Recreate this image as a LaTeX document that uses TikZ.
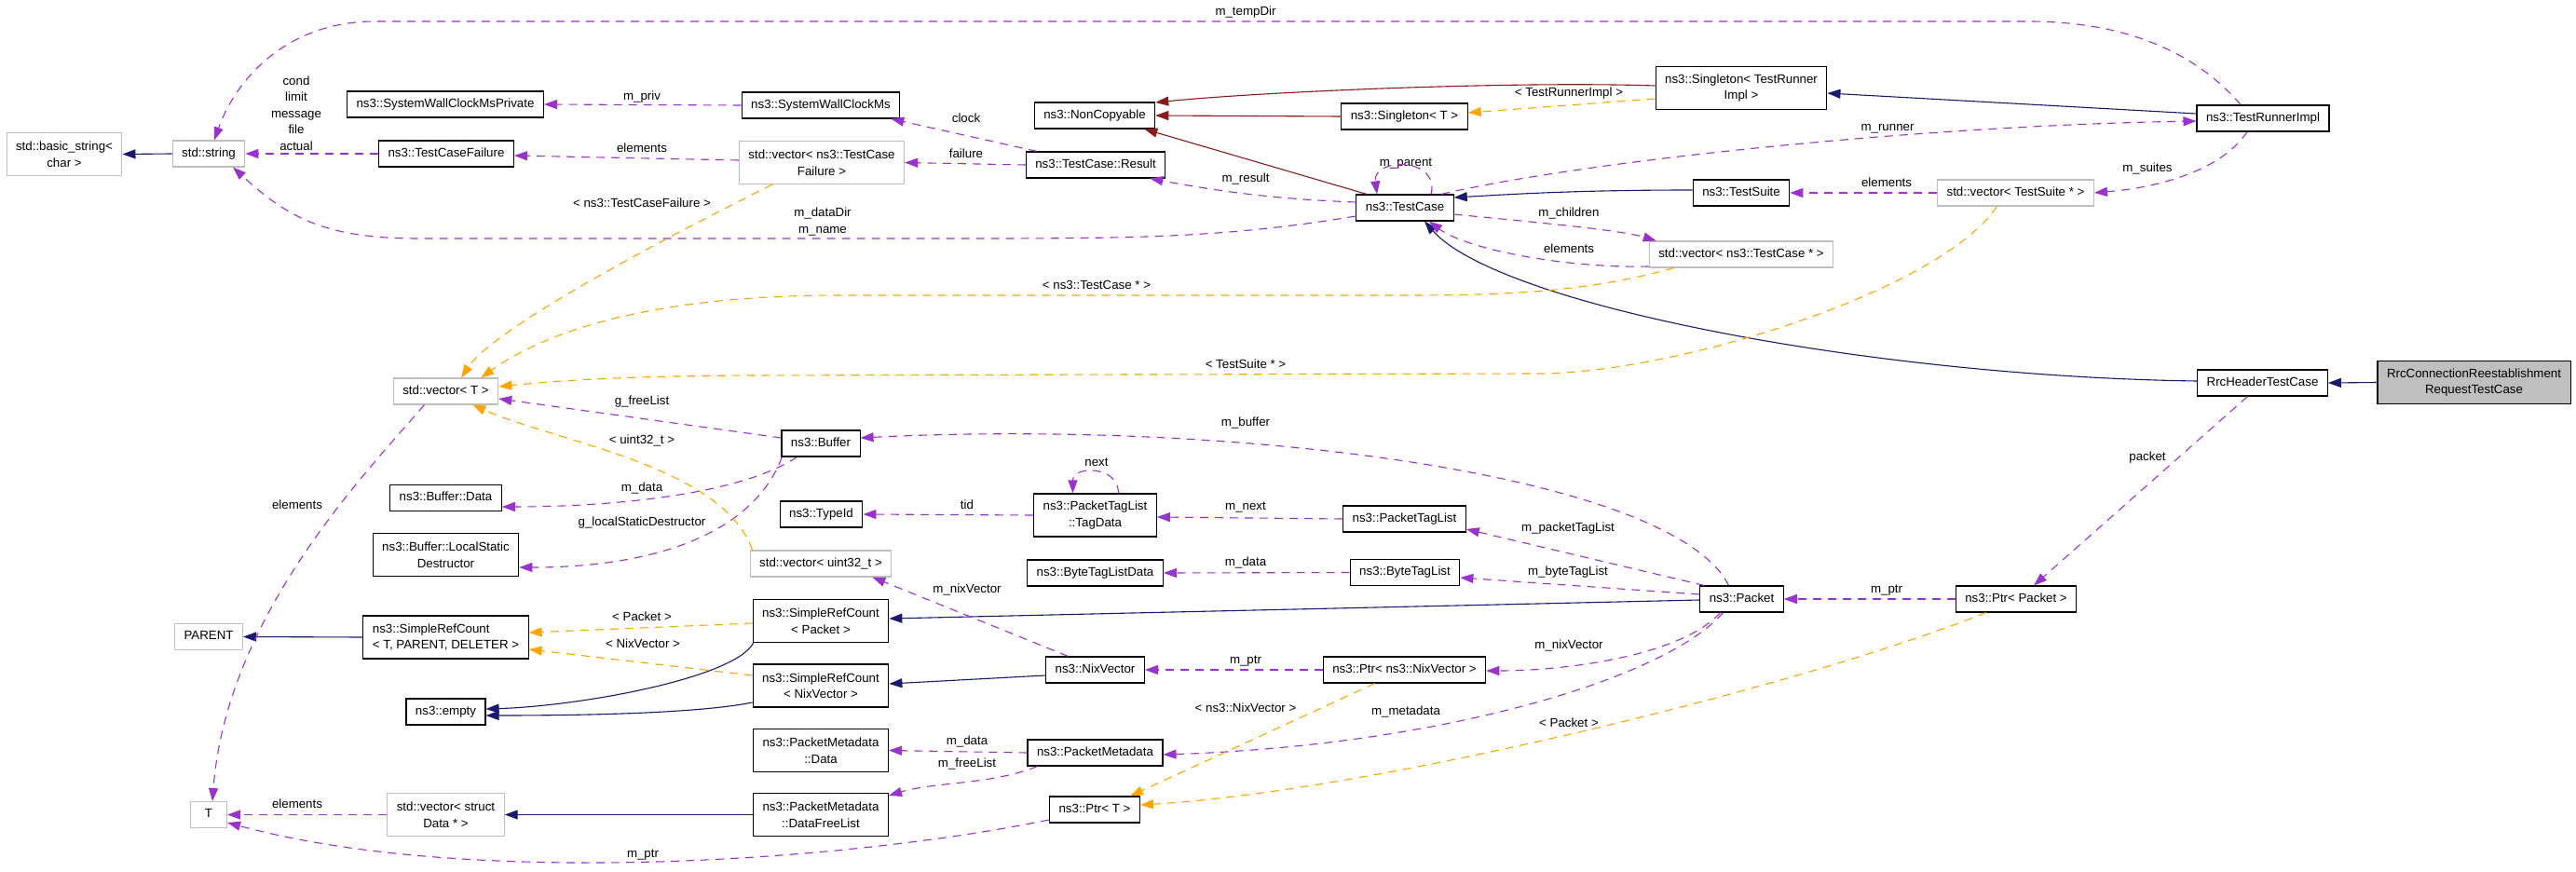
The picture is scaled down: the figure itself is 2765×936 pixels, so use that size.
\documentclass[tikz,border=0pt]{standalone}
\usepackage{fontspec}
\setmainfont{Liberation Sans}
\usetikzlibrary{arrows.meta,calc}
\definecolor{dx_navy}{RGB}{25,25,112}
\definecolor{dx_red}{RGB}{139,26,26}
\definecolor{dx_orchid}{RGB}{154,50,205}
\definecolor{dx_orange}{RGB}{255,165,0}
\definecolor{dx_grey}{RGB}{191,191,191}
\tikzstyle{box}=[rectangle,line width=1.1pt,inner xsep=10pt,inner ysep=0pt]
\tikzstyle{cn}=[box,draw=black,fill=white,minimum height=28pt,
  text height=9.6pt,text depth=2.8pt]
\tikzstyle{cn2}=[box,draw=black,fill=white,minimum height=46pt,align=center]
\tikzstyle{xn}=[box,draw=dx_grey,fill=white,minimum height=28pt,
  text height=9.6pt,text depth=2.8pt]
\tikzstyle{xn2}=[box,draw=dx_grey,fill=white,minimum height=46pt,align=center]
\tikzstyle{rn}=[box,draw=black,fill=dx_grey,minimum height=46pt,align=center]
\tikzstyle{lb}=[inner sep=0pt,text height=9.6pt,text depth=2.8pt]
\tikzstyle{lb2}=[inner sep=0pt,align=center]
\tikzstyle{inh}=[draw=dx_navy,line width=1.1pt,
  -{Triangle[length=14pt,width=10pt,fill=dx_navy]}]
\tikzstyle{prv}=[draw=dx_red,line width=1.1pt,
  -{Triangle[length=14pt,width=10pt,fill=dx_red]}]
\tikzstyle{usg}=[draw=dx_orchid,line width=1.1pt,dash pattern=on 9pt off 7pt,
  -{Triangle[length=14pt,width=10pt,fill=dx_orchid]}]
\tikzstyle{tpl}=[draw=dx_orange,line width=1.1pt,dash pattern=on 9pt off 7pt,
  -{Triangle[length=14pt,width=10pt,fill=dx_orange]}]

\begin{document}
\begin{tikzpicture}[x=1pt,y=-1pt,font=\fontsize{13.3}{17.5}\selectfont]
    \fill[white] (0,0) rectangle (2765,936);
    \useasboundingbox (0,0) rectangle (2765,936);
        % classes, column by column
        \node[style=xn2] (bstr) at (69,165.5) {std::basic\_string<\\char >};
        \node[style=xn] (str) at (224,165) {std::string};
        \node[style=xn] (parent) at (224,683.5) {PARENT};
        \node[style=xn,minimum width=39pt] (tt) at (224,874.5) {T};
        \node[style=cn] (swcp) at (478,112) {ns3::SystemWallClockMsPrivate};
        \node[style=cn] (tcf) at (479,165) {ns3::TestCaseFailure};
        \node[style=xn] (vect) at (478.5,420) {std::vector< T >};
        \node[style=cn] (bdata) at (478.5,534.5) {ns3::Buffer::Data};
        \node[style=cn2] (blsd) at (478.5,595.5) {ns3::Buffer::LocalStatic\\Destructor};
        \node[style=cn2,align=left] (src) at (478.5,684) {ns3::SimpleRefCount\\< T, PARENT, DELETER >};
        \node[style=cn] (empty) at (478.5,764) {ns3::empty};
        \node[style=xn2] (vsd) at (478.5,874.5) {std::vector< struct\\Data * >};
        \node[style=cn] (swc) at (881,113) {ns3::SystemWallClockMs};
        \node[style=xn2] (vtcf) at (882,174.5) {std::vector< ns3::TestCase\\Failure >};
        \node[style=cn] (buf) at (881,476) {ns3::Buffer};
        \node[style=cn] (tid) at (881.5,552) {ns3::TypeId};
        \node[style=xn] (vu32) at (881,605) {std::vector< uint32\_t >};
        \node[style=cn2] (srcp) at (881,666.5) {ns3::SimpleRefCount\\< Packet >};
        \node[style=cn2] (srcn) at (881,736) {ns3::SimpleRefCount\\< NixVector >};
        \node[style=cn2] (pmd) at (881,805.5) {ns3::PacketMetadata\\::Data};
        \node[style=cn2] (pmdfl) at (881,874.5) {ns3::PacketMetadata\\::DataFreeList};
        \node[style=cn] (nonc) at (1175,124) {ns3::NonCopyable};
        \node[style=cn] (res) at (1176,177) {ns3::TestCase::Result};
        \node[style=cn2] (tagd) at (1175.5,553) {ns3::PacketTagList\\::TagData};
        \node[style=cn] (btld) at (1175.5,615) {ns3::ByteTagListData};
        \node[style=cn] (nixv) at (1175.5,719) {ns3::NixVector};
        \node[style=cn] (pm) at (1175.5,808) {ns3::PacketMetadata};
        \node[style=cn] (ptrt) at (1175,869) {ns3::Ptr< T >};
        \node[style=cn] (sglt) at (1507.5,125) {ns3::Singleton< T >};
        \node[style=cn] (tc) at (1508,223) {ns3::TestCase};
        \node[style=cn] (ptl) at (1507.5,557) {ns3::PacketTagList};
        \node[style=cn] (btl) at (1508,614.5) {ns3::ByteTagList};
        \node[style=cn] (ptrn) at (1507.5,719) {ns3::Ptr< ns3::NixVector >};
        \node[style=cn2] (sgltr) at (1869,94.5) {ns3::Singleton< TestRunner\\Impl >};
        \node[style=cn] (ts) at (1869,207) {ns3::TestSuite};
        \node[style=xn] (vtc) at (1869,273) {std::vector< ns3::TestCase * >};
        \node[style=cn] (pkt) at (1869.5,643) {ns3::Packet};
        \node[style=xn] (vts) at (2163.5,207) {std::vector< TestSuite * >};
        \node[style=cn] (ptrp) at (2164,643) {ns3::Ptr< Packet >};
        \node[style=cn] (tri) at (2429,127) {ns3::TestRunnerImpl};
        \node[style=cn] (rhtc) at (2428.5,411) {RrcHeaderTestCase};
        \node[style=rn] (rcr) at (2655.5,410.5) {RrcConnectionReestablishment\\RequestTestCase};
        % edge labels
        \node[style=lb] (l1) at (1337,13) {m\_tempDir};
        \node[style=lb2] (l2) at (318,121.5) {cond\\limit\\message\\file\\actual};
        \node[style=lb] (l3) at (689,104) {m\_priv};
        \node[style=lb] (l4) at (689,160) {elements};
        \node[style=lb] (l5) at (689,219) {< ns3::TestCaseFailure >};
        \node[style=lb] (l6) at (1037,128) {clock};
        \node[style=lb] (l7) at (1037,166) {failure};
        \node[style=lb] (l8) at (1337,192) {m\_result};
        \node[style=lb2] (l9) at (883,238) {m\_dataDir\\m\_name};
        \node[style=lb] (l10) at (1684,100) {< TestRunnerImpl >};
        \node[style=lb] (l11) at (2026,137) {m\_runner};
        \node[style=lb] (l12) at (1509,175) {m\_parent};
        \node[style=lb] (l13) at (2025,197) {elements};
        \node[style=lb] (l14) at (2305,181) {m\_suites};
        \node[style=lb] (l15) at (1684,229) {m\_children};
        \node[style=lb] (l16) at (1684,268) {elements};
        \node[style=lb] (l17) at (1177,307) {< ns3::TestCase * >};
        \node[style=lb] (l18) at (1337,392) {< TestSuite * >};
        \node[style=lb] (l19) at (689,431) {g\_freeList};
        \node[style=lb] (l20) at (1337,454) {m\_buffer};
        \node[style=lb] (l21) at (689,473) {< uint32\_t >};
        \node[style=lb] (l22) at (2305,491) {packet};
        \node[style=lb] (l23) at (1177,497) {next};
        \node[style=lb] (l24) at (689,524) {m\_data};
        \node[style=lb] (l25) at (1038,543) {tid};
        \node[style=lb] (l26) at (1337,544) {m\_next};
        \node[style=lb] (l27) at (319,543) {elements};
        \node[style=lb] (l28) at (689,561) {g\_localStaticDestructor};
        \node[style=lb] (l29) at (1683,567) {m\_packetTagList};
        \node[style=lb] (l30) at (1337,604) {m\_data};
        \node[style=lb] (l31) at (1683,614) {m\_byteTagList};
        \node[style=lb] (l32) at (1038,633) {m\_nixVector};
        \node[style=lb] (l33) at (2025,633) {m\_ptr};
        \node[style=lb] (l34) at (689,663) {< Packet >};
        \node[style=lb] (l35) at (690,692) {< NixVector >};
        \node[style=lb] (l36) at (1684,693) {m\_nixVector};
        \node[style=lb] (l37) at (1337,709) {m\_ptr};
        \node[style=lb] (l38) at (1337,761) {< ns3::NixVector >};
        \node[style=lb] (l39) at (1509,764) {m\_metadata};
        \node[style=lb] (l40) at (1684,777) {< Packet >};
        \node[style=lb] (l41) at (1038,796) {m\_data};
        \node[style=lb] (l42) at (1038,820) {m\_freeList};
        \node[style=lb] (l43) at (319,864) {elements};
        \node[style=lb] (l44) at (690,917) {m\_ptr};
        % inheritance
        \draw[style=inh] (str.west) to (bstr.east);
        \draw[style=inh] ($(tri.west)+(0,-5)$) to ($(sgltr.east)+(0,5.5)$);
        \draw[style=inh] ($(ts.west)+(0,-3)$) .. controls +(-120,0) and +(70,-4) .. ($(tc.east)+(0,-11)$);
        \draw[style=inh] ($(rhtc.west)+(0,-2)$) .. controls +(-350,-5) and +(80,90) .. ($(tc.south)+(21,0)$);
        \draw[style=inh] (src.west) to (parent.east);
        \draw[style=inh] ($(srcp.south west)+(1,0)$) .. controls +(-20,38) and +(100,-3) .. ($(empty.east)+(0,-3)$);
        \draw[style=inh] ($(srcn.west)+(0,18)$) .. controls +(-60,12) and +(100,0) .. ($(empty.east)+(0,4)$);
        \draw[style=inh] (pmdfl.west) to (vsd.east);
        \draw[style=inh] ($(pkt.west)+(0,1)$) to ($(srcp.east)+(0,-2.5)$);
        \draw[style=inh] ($(nixv.west)+(0,6)$) to ($(srcn.east)+(0,-2)$);
        \draw[style=inh] (rcr.west) to (rhtc.east);
        \draw[style=prv] ($(sgltr.west)+(0,-2.5)$) .. controls +(-150,-5) and +(120,-12) .. ($(nonc.east)+(0,-14)$);
        \draw[style=prv] (sglt.west) to (nonc.east);
        \draw[style=prv] ($(tc.north)+(-41,0)$) to ($(nonc.south east)+(-12,0)$);
        % usage
        \draw[style=usg] ($(tri.north)+(-24,0)$) .. controls +(-60,-70) and +(80,0) .. (2177,23)
            -- (402,23) .. controls +(-90,0) and +(25,-70) .. ($(str.north)+(6,0)$);
        \draw[style=usg] (tcf.west) to (str.east);
        \draw[style=usg] ($(tc.west)+(0,9)$) .. controls +(-150,25) and +(200,0) .. (1000,256)
            -- (450,256) .. controls +(-100,0) and +(60,55) .. ($(str.south)+(26,0)$);
        \draw[style=usg] ($(tc.west)+(0,-6)$) .. controls +(-80,-3) and +(80,15) .. ($(res.south east)+(-17,0)$);
        \draw[style=usg] ($(res.north)+(-63,0)$) to ($(swc.south east)+(-10,0)$);
        \draw[style=usg] (res.west) to (vtcf.east);
        \draw[style=usg] ($(vtcf.west)+(0,-2.5)$) to ($(tcf.east)+(0,2)$);
        \draw[style=usg] (swc.west) to (swcp.east);
        \draw[style=usg] ($(tc.north)+(39,0)$) .. controls +(150,-35) and +(-300,5) .. ($(tri.west)+(0,3)$);
        \draw[style=usg] ($(tc.north)+(28,0)$) .. controls +(10,-40) and +(-5,-40) .. ($(tc.north)+(-30,0)$);
        \draw[style=usg] (vts.west) to (ts.east);
        \draw[style=usg] ($(tri.south)+(-17,0)$) .. controls +(-30,45) and +(60,-5) .. (vts.east);
        \draw[style=usg] ($(tc.east)+(0,7)$) .. controls +(80,8) and +(-40,-12) .. ($(vtc.north west)+(8,0)$);
        \draw[style=usg] ($(vtc.west)+(0,13)$) .. controls +(-90,2) and +(40,30) .. ($(tc.south)+(26,0)$);
        \draw[style=usg] ($(rhtc.south)+(-16,0)$) to ($(ptrp.north)+(19,0)$);
        \draw[style=usg] (ptrp.west) to (pkt.east);
        \draw[style=usg] ($(pkt.north)+(-14,0)$) .. controls +(-60,-120) and +(400,-20) .. ($(buf.east)+(0,-6)$);
        \draw[style=usg] ($(pkt.north)+(-40,0)$) to ($(ptl.east)+(0,11)$);
        \draw[style=usg] ($(pkt.west)+(0,-5)$) to ($(btl.east)+(0,5.5)$);
        \draw[style=usg] ($(pkt.south)+(-23,0)$) .. controls +(-40,45) and +(90,0) .. ($(ptrn.east)+(0,1)$);
        \draw[style=usg] ($(pkt.south)+(-20,0)$) .. controls +(-60,70) and +(300,-10) .. ($(pm.east)+(0,2)$);
        \draw[style=usg] ($(buf.west)+(0,-6)$) to ($(vect.east)+(0,8)$);
        \draw[style=usg] ($(buf.south west)+(17,0)$) .. controls +(-60,40) and +(120,0) .. ($(bdata.east)+(0,9.5)$);
        \draw[style=usg] ($(buf.south west)+(1,0)$) .. controls +(-30,80) and +(150,0) .. ($(blsd.east)+(0,13.5)$);
        \draw[style=usg] (tagd.west) to (tid.east);
        \draw[style=usg] ($(tagd.north)+(25,0)$) .. controls +(0,-30) and +(0,-30) .. ($(tagd.north)+(-24,0)$);
        \draw[style=usg] (ptl.west) to ($(tagd.east)+(0,2)$);
        \draw[style=usg] (btl.west) to (btld.east);
        \draw[style=usg] ($(vect.south)+(-23,0)$) .. controls +(-60,70) and +(15,-200) .. ($(tt.north)+(4,0)$);
        \draw[style=usg] (vsd.west) to (tt.east);
        \draw[style=usg] ($(ptrt.west)+(0,11)$) .. controls +(-220,45) and +(260,70) .. ($(tt.east)+(0,8.5)$);
        \draw[style=usg] ($(nixv.north)+(-29,0)$) to ($(vu32.south east)+(-21,0)$);
        \draw[style=usg] (ptrn.west) to (nixv.east);
        \draw[style=usg] (pm.west) to (pmd.east);
        \draw[style=usg] ($(pm.south west)+(11,0)$) .. controls +(-50,20) and +(50,-15) .. ($(pmdfl.north east)+(0,3)$);
        % template instances
        \draw[style=tpl] ($(sgltr.west)+(0,11.5)$) to ($(sglt.east)+(0,-4)$);
        \draw[style=tpl] ($(vtcf.south)+(-53,0)$) .. controls +(-60,30) and +(40,-60) .. ($(vect.north)+(16.5,0)$);
        \draw[style=tpl] ($(vtc.south)+(-72,0)$) .. controls +(-100,28) and +(100,0) .. (1500,317)
            -- (900,317) .. controls +(-200,0) and +(70,-50) .. ($(vect.north east)+(-19,0)$);
        \draw[style=tpl] ($(vts.south)+(-20,0)$) .. controls +(-60,90) and +(150,0) .. (1650,401)
            -- (800,403) .. controls +(-120,1) and +(80,-8) .. ($(vect.east)+(0,-5)$);
        \draw[style=tpl] ($(vu32.north west)+(3,0)$) .. controls +(-32,-91) and +(90,40) .. ($(vect.south east)+(-28,0)$);
        \draw[style=tpl] ($(srcp.west)+(0,2.5)$) to ($(src.east)+(0,-5)$);
        \draw[style=tpl] ($(srcn.west)+(0,-11)$) to ($(src.east)+(0,13)$);
        \draw[style=tpl] ($(ptrn.south west)+(56,0)$) to ($(ptrt.north)+(38,0)$);
        \draw[style=tpl] ($(ptrp.south west)+(33,0)$) .. controls +(-200,80) and +(250,-15) .. ($(ptrt.east)+(0,-5)$);
\end{tikzpicture}
\end{document}
